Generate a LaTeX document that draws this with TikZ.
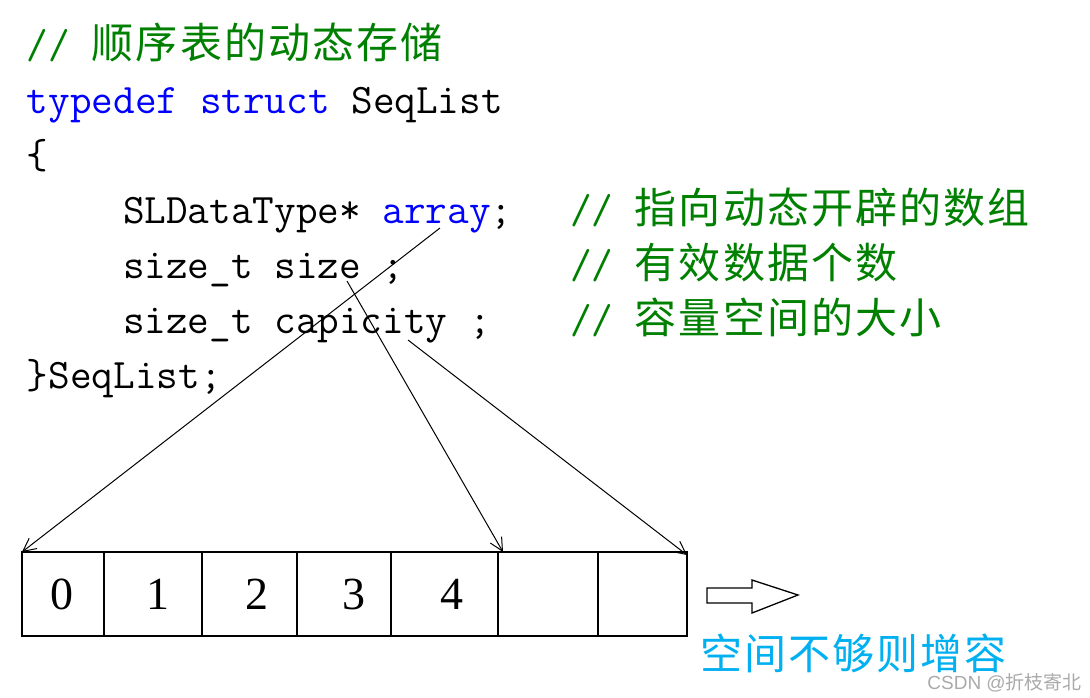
\documentclass[tikz,border=0pt]{standalone}
\usepackage{fontspec}
\usetikzlibrary{arrows.meta}
\newfontfamily\codefont{Latin Modern Mono}
\newfontfamily\cjkfont[LetterSpace=5]{Noto Sans CJK SC}
\newfontfamily\wmcjk{Noto Sans CJK SC}
\newfontfamily\wmlat{Liberation Sans}
\newfontfamily\numfont{Liberation Serif}
\definecolor{cmtgreen}{RGB}{0,128,0}
\definecolor{kwblue}{RGB}{0,0,255}
\definecolor{noteblue}{RGB}{0,176,240}
\definecolor{wmgray}{RGB}{170,170,170}
\tikzset{
  code/.style={anchor=base west, inner sep=0pt, outer sep=0pt, font=\codefont\fontsize{42}{42}\selectfont},
  cmt/.style={code, text=cmtgreen},
  cell/.style={draw, line width=1.3pt, minimum height=84pt, inner sep=0pt, outer sep=0pt, anchor=north west},
  num/.style={inner sep=0pt, font=\numfont\fontsize{46}{46}\selectfont},
  ptr/.style={-{Straight Barb[length=13pt,width=13pt]}, line width=1pt},
}
\begin{document}
\begin{tikzpicture}[x=1pt,y=-1pt]
\fill[white] (0,0) rectangle (1090,697);
\useasboundingbox (0,0) rectangle (1090,697);
% code
\node[cmt] (l1) at (27,58) {//\ \cjkfont 顺序表的动态存储};
\node[code] (l2) at (27,113) {{\color{kwblue}typedef struct} SeqList};
\node[code] (l3) at (27,168) {\{};
\node[code] (l4) at (123,223) {SLDataType* {\color{kwblue}array};};
\node[cmt] (m4) at (570,223) {//\ \cjkfont 指向动态开辟的数组};
\node[code] (l5) at (123,278) {size\_t size ;};
\node[cmt] (m5) at (570,278) {//\ \cjkfont 有效数据个数};
\node[code] (l6) at (123,333) {size\_t capicity ;};
\node[cmt] (m6) at (570,333) {//\ \cjkfont 容量空间的大小};
\node[code] (l7) at (27,388) {\}SeqList;};
% array cells
\node[cell, minimum width=82pt] (c0) at (22,552) {};
\node[cell, minimum width=98pt] (c1) at (104,552) {};
\node[cell, minimum width=95pt] (c2) at (202,552) {};
\node[cell, minimum width=94pt] (c3) at (297,552) {};
\node[cell, minimum width=107pt] (c4) at (391,552) {};
\node[cell, minimum width=100pt] (c5) at (498,552) {};
\node[cell, minimum width=89pt] (c6) at (598,552) {};
\node[num] (n0) at (62,594) {0};
\node[num] (n1) at (158,594) {1};
\node[num] (n2) at (257,594) {2};
\node[num] (n3) at (354,594) {3};
\node[num] (n4) at (452,594) {4};
% pointers
\coordinate (s1) at (440,228);
\coordinate (s2) at (347,281);
\coordinate (s3) at (408,340);
\draw[ptr] (s1) -- (c0.north west);
\draw[ptr] (s2) -- ([xshift=5pt]c5.north west);
\draw[ptr] (s3) -- ([yshift=-3pt]c6.north east);
% hollow arrow
\draw[line width=1.3pt, line join=miter] (707,588) -- (752,588) -- (752,580) -- (798,595) -- (752,613) -- (752,603) -- (707,603) -- cycle;
\node[anchor=base west, inner sep=0pt, text=noteblue, font=\cjkfont\fontsize{42}{42}\selectfont] (note) at (700,669) {空间不够则增容};
\node[anchor=base east, inner sep=0pt, text=wmgray, font=\wmlat\fontsize{19}{19}\selectfont] (wm) at (1082,689) {CSDN @{\wmcjk 折枝寄北}};
\end{tikzpicture}
\end{document}
